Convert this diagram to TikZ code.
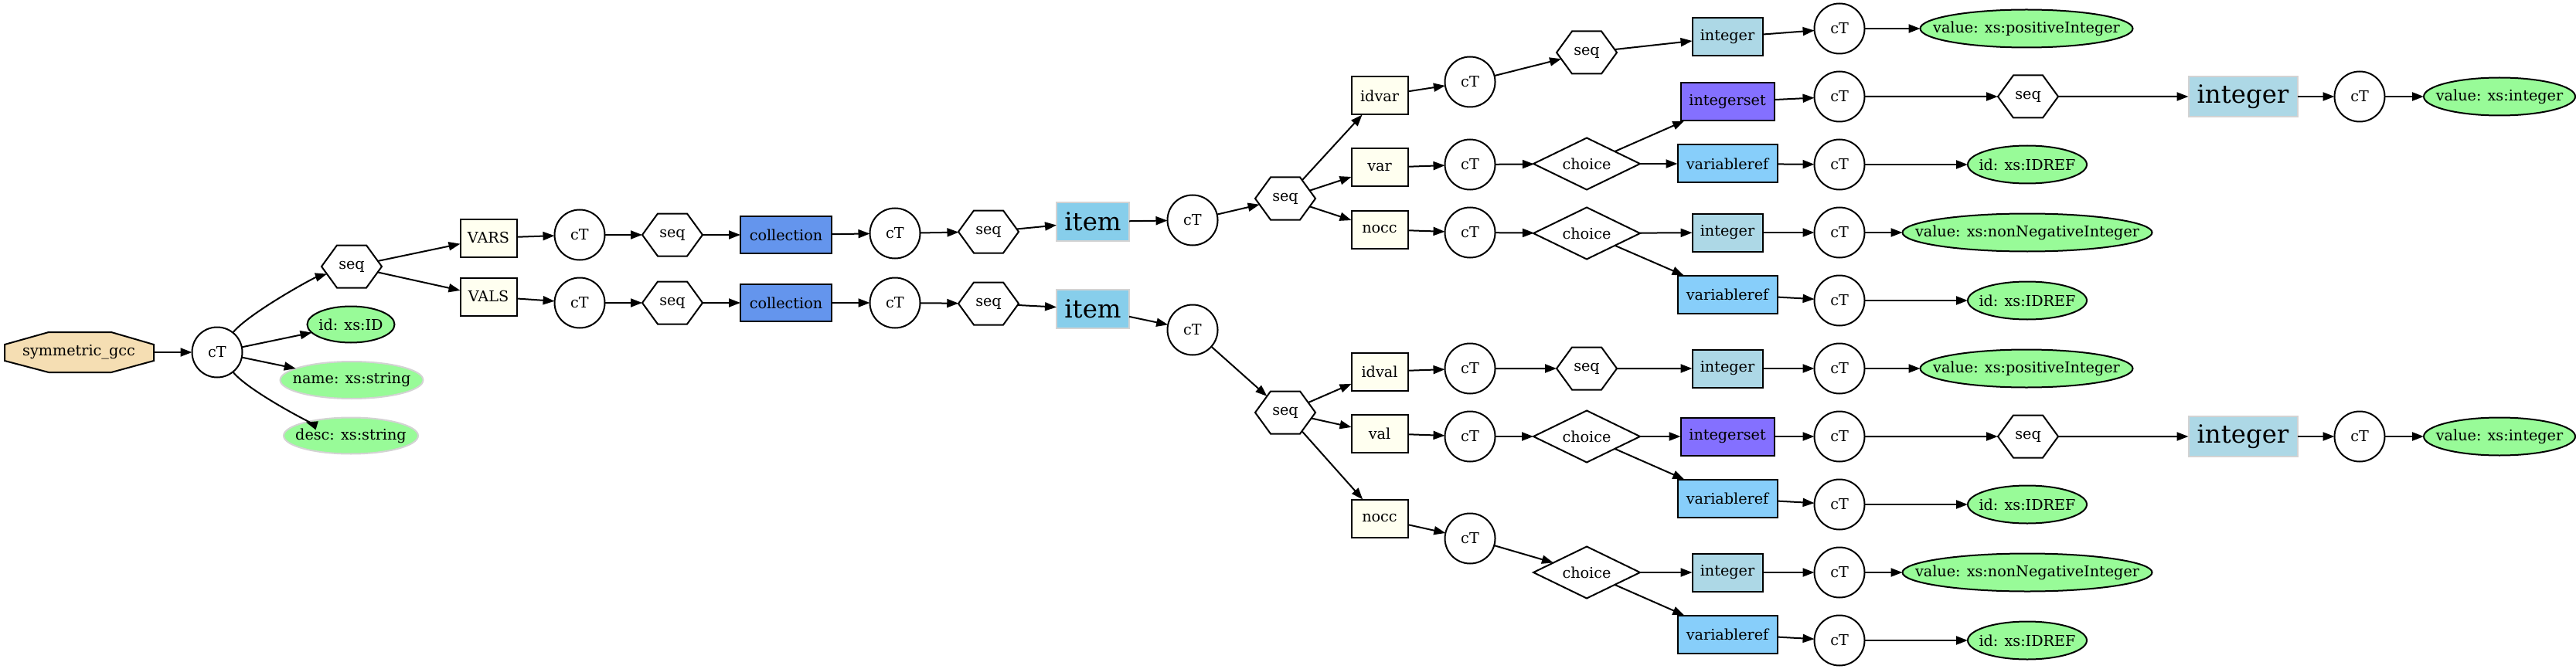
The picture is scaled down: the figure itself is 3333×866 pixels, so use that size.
\documentclass[tikz,border=0pt]{standalone}
\usepackage{fontspec}
\setmainfont{DejaVu Serif}
\usetikzlibrary{arrows.meta,shapes.geometric,shapes.symbols}
\definecolor{wheatc}{HTML}{F5DEB3}
\definecolor{ivoryc}{HTML}{FFFFF0}
\definecolor{cornc}{HTML}{6495ED}
\definecolor{skyc}{HTML}{87CEEB}
\definecolor{lbluec}{HTML}{ADD8E6}
\definecolor{lslatec}{HTML}{8470FF}
\definecolor{lskyc}{HTML}{87CEFA}
\definecolor{pgreenc}{HTML}{98FB98}
\definecolor{lgrayc}{HTML}{D3D3D3}
\newcommand{\zw}[1]{\makebox[0pt]{#1}}
\tikzset{
  base/.style={inner sep=0pt, outer sep=0pt, line width=1pt, font=\fontsize{9.6}{11}\selectfont},
  ctn/.style={base, circle, draw, minimum size=32.5pt},
  hexn/.style={base, signal, signal to=west and east, signal pointer angle=108, draw, minimum width=39pt, minimum height=27.5pt},
  elemn/.style={base, rectangle, draw, fill=ivoryc, minimum width=36.5pt, minimum height=24.5pt},
  colln/.style={base, rectangle, draw, fill=cornc, minimum width=59pt, minimum height=24pt},
  itemn/.style={base, rectangle, draw=lgrayc, fill=skyc, minimum width=47pt, minimum height=25pt, font=\fontsize{16.2}{18}\selectfont},
  intn/.style={base, rectangle, draw, fill=lbluec, minimum width=45.5pt, minimum height=24.5pt},
  bigintn/.style={base, rectangle, draw=lgrayc, fill=lbluec, minimum width=70.5pt, minimum height=26pt, font=\fontsize{16.2}{18}\selectfont},
  isetn/.style={base, rectangle, draw, fill=lslatec, minimum width=60.5pt, minimum height=24.5pt},
  vrefn/.style={base, rectangle, draw, fill=lskyc, minimum width=64.5pt, minimum height=24.5pt},
  choicen/.style={base, diamond, draw, aspect=2, minimum width=69pt, minimum height=33.5pt},
  attrn/.style={base, ellipse, draw, fill=pgreenc, minimum height=24.5pt},
  attrgn/.style={base, ellipse, draw=lgrayc, fill=pgreenc, minimum height=24pt},
  edge/.style={-{Triangle[length=7.5pt,width=5.5pt]}, line width=1pt},
}
\begin{document}
\begin{tikzpicture}[x=0.5pt,y=-0.5pt]
\useasboundingbox (0,0) rectangle (3333,866);
% root octagon
\filldraw[fill=wheatc, line width=1pt] (6,446)--(63,430)--(144,430)--(199,446)--(199,467)--(144,482)--(63,482)--(6,467)--cycle;
\node[base, minimum width=96.5pt, minimum height=26pt] (root) at (102,456) {symmetric\_gcc};
\node[ctn] (ct0) at (281,456) {cT};
\node[hexn] (seqA) at (455,345) {seq};
\node[attrn, minimum width=56.5pt, minimum height=23.5pt] (idID) at (454,420) {\zw{id: xs:ID}};
\node[attrgn, minimum width=92.5pt] (nm) at (455,492) {\zw{name: xs:string}};
\node[attrgn, minimum width=87pt, minimum height=23.5pt] (ds) at (454,564) {\zw{desc: xs:string}};
% VARS row
\node[elemn] (VARS) at (632,308) {VARS};
\node[ctn] (ct1a) at (750,304) {cT};
\node[hexn] (seq1a) at (870,304) {seq};
\node[colln] (colla) at (1017,304) {collection};
\node[ctn] (ct2a) at (1158,302) {cT};
\node[hexn] (seq2a) at (1279,300) {seq};
\node[itemn] (itema) at (1414,287) {item};
\node[ctn] (ct3a) at (1543,285) {cT};
\node[hexn] (seq3a) at (1663,257) {seq};
% VALS row
\node[elemn] (VALS) at (632,384) {VALS};
\node[ctn] (ct1b) at (750,392) {cT};
\node[hexn] (seq1b) at (870,392) {seq};
\node[colln] (collb) at (1017,392) {collection};
\node[ctn] (ct2b) at (1158,392) {cT};
\node[hexn] (seq2b) at (1279,393) {seq};
\node[itemn] (itemb) at (1414,400) {item};
\node[ctn] (ct3b) at (1543,427) {cT};
\node[hexn] (seq3b) at (1663,534) {seq};
% top branch
\node[elemn] (idvar) at (1785,124) {idvar};
\node[elemn] (var) at (1785,217) {var};
\node[elemn] (nocca) at (1785,297) {nocc};
\node[ctn] (ctidvar) at (1902,106) {cT};
\node[ctn] (ctvar) at (1902,213) {cT};
\node[ctn] (ctnocca) at (1902,301) {cT};
\node[hexn] (seqidvar) at (2053,68) {seq};
\node[choicen] (chvar) at (2053,212) {choice};
\node[choicen] (chnocca) at (2053,302) {choice};
\node[intn] (inta1) at (2235,48) {integer};
\node[isetn] (iseta) at (2235,132) {integerset};
\node[vrefn] (vrefa1) at (2235,212) {variableref};
\node[intn] (inta2) at (2235,301) {integer};
\node[vrefn] (vrefa2) at (2235,381) {variableref};
\node[ctn] (cta1) at (2380,37) {cT};
\node[ctn] (cta2) at (2380,125) {cT};
\node[ctn] (cta3) at (2380,213) {cT};
\node[ctn] (cta4) at (2380,301) {cT};
\node[ctn] (cta5) at (2380,389) {cT};
\node[attrn, minimum width=137.5pt] (posa) at (2622,37) {\zw{value: xs:positiveInteger}};
\node[hexn] (seqisa) at (2624,125) {seq};
\node[attrn, minimum width=77pt] (idrefa1) at (2623,213) {\zw{id: xs:IDREF}};
\node[attrn, minimum width=161.5pt] (nonnega) at (2623,301) {\zw{value: xs:nonNegativeInteger}};
\node[attrn, minimum width=77pt] (idrefa2) at (2623,389) {\zw{id: xs:IDREF}};
\node[bigintn] (biginta) at (2902,125) {integer};
\node[ctn] (ctbia) at (3053,125) {cT};
\node[attrn, minimum width=98pt] (valinta) at (3234,125) {\zw{value: xs:integer}};
% bottom branch
\node[elemn] (idval) at (1785,481) {idval};
\node[elemn] (val) at (1785,561) {val};
\node[elemn] (noccb) at (1785,671) {nocc};
\node[ctn] (ctidval) at (1902,477) {cT};
\node[ctn] (ctval) at (1902,565) {cT};
\node[ctn] (ctnoccb) at (1902,697) {cT};
\node[hexn] (seqidval) at (2053,477) {seq};
\node[choicen] (chval) at (2053,565) {choice};
\node[choicen] (chnoccb) at (2053,741) {choice};
\node[intn] (intb1) at (2235,477) {integer};
\node[isetn] (isetb) at (2235,565) {integerset};
\node[vrefn] (vrefb1) at (2235,645) {variableref};
\node[intn] (intb2) at (2235,741) {integer};
\node[vrefn] (vrefb2) at (2235,821) {variableref};
\node[ctn] (ctb1) at (2380,477) {cT};
\node[ctn] (ctb2) at (2380,565) {cT};
\node[ctn] (ctb3) at (2380,653) {cT};
\node[ctn] (ctb4) at (2380,741) {cT};
\node[ctn] (ctb5) at (2380,829) {cT};
\node[attrn, minimum width=137.5pt] (posb) at (2622,477) {\zw{value: xs:positiveInteger}};
\node[hexn] (seqisb) at (2624,565) {seq};
\node[attrn, minimum width=77pt] (idrefb1) at (2623,653) {\zw{id: xs:IDREF}};
\node[attrn, minimum width=161.5pt] (nonnegb) at (2623,741) {\zw{value: xs:nonNegativeInteger}};
\node[attrn, minimum width=77pt] (idrefb2) at (2623,829) {\zw{id: xs:IDREF}};
\node[bigintn] (bigintb) at (2902,565) {integer};
\node[ctn] (ctbib) at (3053,565) {cT};
\node[attrn, minimum width=98pt] (valintb) at (3234,565) {\zw{value: xs:integer}};
% edges
\draw[edge] (root) -- (ct0);
\draw[edge] (ct0) .. controls +(40,-50) and +(-50,15) .. (seqA);
\draw[edge] (ct0) -- (idID);
\draw[edge] (ct0) -- (nm);
\draw[edge] (ct0) .. controls +(40,50) and +(-50,-15) .. (ds);
\draw[edge] (seqA) -- (VARS);
\draw[edge] (seqA) -- (VALS);
\draw[edge] (VARS) -- (ct1a);
\draw[edge] (ct1a) -- (seq1a);
\draw[edge] (seq1a) -- (colla);
\draw[edge] (colla) -- (ct2a);
\draw[edge] (ct2a) -- (seq2a);
\draw[edge] (seq2a) -- (itema);
\draw[edge] (itema) -- (ct3a);
\draw[edge] (ct3a) -- (seq3a);
\draw[edge] (VALS) -- (ct1b);
\draw[edge] (ct1b) -- (seq1b);
\draw[edge] (seq1b) -- (collb);
\draw[edge] (collb) -- (ct2b);
\draw[edge] (ct2b) -- (seq2b);
\draw[edge] (seq2b) -- (itemb);
\draw[edge] (itemb) -- (ct3b);
\draw[edge] (ct3b) -- (seq3b);
% top branch edges
\draw[edge] (seq3a) -- (idvar);
\draw[edge] (seq3a) -- (var);
\draw[edge] (seq3a) -- (nocca);
\draw[edge] (idvar) -- (ctidvar);
\draw[edge] (ctidvar) -- (seqidvar);
\draw[edge] (seqidvar) -- (inta1);
\draw[edge] (inta1) -- (cta1);
\draw[edge] (cta1) -- (posa);
\draw[edge] (var) -- (ctvar);
\draw[edge] (ctvar) -- (chvar);
\draw[edge] (chvar) -- (iseta);
\draw[edge] (chvar) -- (vrefa1);
\draw[edge] (iseta) -- (cta2);
\draw[edge] (cta2) -- (seqisa);
\draw[edge] (seqisa) -- (biginta);
\draw[edge] (biginta) -- (ctbia);
\draw[edge] (ctbia) -- (valinta);
\draw[edge] (vrefa1) -- (cta3);
\draw[edge] (cta3) -- (idrefa1);
\draw[edge] (nocca) -- (ctnocca);
\draw[edge] (ctnocca) -- (chnocca);
\draw[edge] (chnocca) -- (inta2);
\draw[edge] (chnocca) -- (vrefa2);
\draw[edge] (inta2) -- (cta4);
\draw[edge] (cta4) -- (nonnega);
\draw[edge] (vrefa2) -- (cta5);
\draw[edge] (cta5) -- (idrefa2);
% bottom branch edges
\draw[edge] (seq3b) -- (idval);
\draw[edge] (seq3b) -- (val);
\draw[edge] (seq3b) -- (noccb);
\draw[edge] (idval) -- (ctidval);
\draw[edge] (ctidval) -- (seqidval);
\draw[edge] (seqidval) -- (intb1);
\draw[edge] (intb1) -- (ctb1);
\draw[edge] (ctb1) -- (posb);
\draw[edge] (val) -- (ctval);
\draw[edge] (ctval) -- (chval);
\draw[edge] (chval) -- (isetb);
\draw[edge] (chval) -- (vrefb1);
\draw[edge] (isetb) -- (ctb2);
\draw[edge] (ctb2) -- (seqisb);
\draw[edge] (seqisb) -- (bigintb);
\draw[edge] (bigintb) -- (ctbib);
\draw[edge] (ctbib) -- (valintb);
\draw[edge] (vrefb1) -- (ctb3);
\draw[edge] (ctb3) -- (idrefb1);
\draw[edge] (noccb) -- (ctnoccb);
\draw[edge] (ctnoccb) -- (chnoccb);
\draw[edge] (chnoccb) -- (intb2);
\draw[edge] (chnoccb) -- (vrefb2);
\draw[edge] (intb2) -- (ctb4);
\draw[edge] (ctb4) -- (nonnegb);
\draw[edge] (vrefb2) -- (ctb5);
\draw[edge] (ctb5) -- (idrefb2);
\end{tikzpicture}
\end{document}
